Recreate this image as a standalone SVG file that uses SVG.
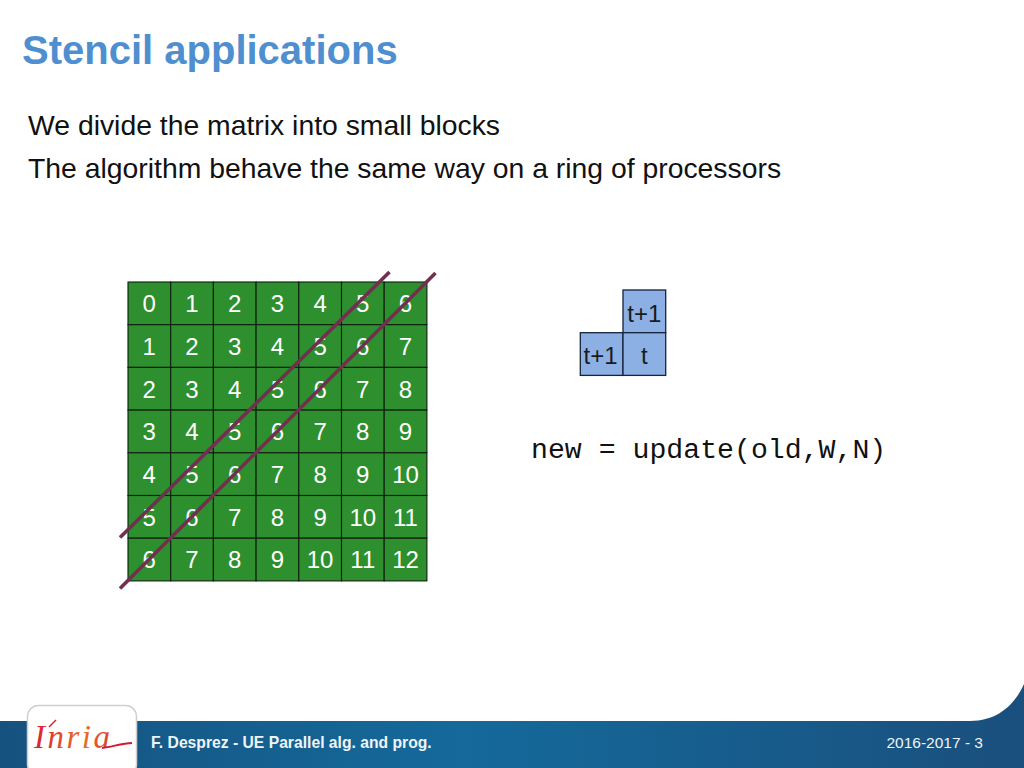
<svg xmlns="http://www.w3.org/2000/svg" width="1024" height="768" viewBox="0 0 1024 768">
<style>
.s{font-family:"Liberation Sans",Arial,sans-serif}
.c{fill:#2d8f2d;stroke:#0c1f0c;stroke-width:1.1}
.b{fill:#8db0e4;stroke:#14233c;stroke-width:1.3}
.n{font-size:24px;fill:#fff;text-anchor:middle;font-family:"Liberation Sans",Arial,sans-serif}
.k{font-size:24px;fill:#1a1a22;text-anchor:middle;font-family:"Liberation Sans",Arial,sans-serif}
.d{stroke:#71304f;stroke-width:3.6;fill:none}
.p{font-size:28.350px;fill:#111}
</style>
<defs>
<linearGradient id="bar" x1="0" x2="1" y1="0" y2="0"><stop offset="0" stop-color="#16527f"/><stop offset=".45" stop-color="#146a9b"/><stop offset="1" stop-color="#1a4f7d"/></linearGradient>
<linearGradient id="logo" gradientUnits="userSpaceOnUse" x1="33" x2="132" y1="0" y2="0"><stop offset="0" stop-color="#d61f33"/><stop offset=".5" stop-color="#e6702a"/><stop offset="1" stop-color="#d4182f"/></linearGradient>
</defs>
<rect width="1024" height="768" fill="#fff"/>
<g id="footer">
<path d="M0 721H970C1000 721 1016 702 1024 684V768H0Z" fill="url(#bar)"/>
<rect x="27.500" y="705.500" width="109" height="70" rx="11" fill="#fff" stroke="#cfcfcf" stroke-width="1.500"/>
<text x="34" y="748" font-family="Liberation Serif,serif" font-style="italic" font-size="33" fill="url(#logo)" textLength="76">Inria</text>
<path d="M102 748C112 747 122 743 132 743" stroke="#d4182f" stroke-width="2" fill="none"/>
<path d="M49 727L56 720" stroke="#d61f33" stroke-width="1.500" fill="none"/>
<text class="s" x="151" y="748" font-size="15.700" font-weight="bold" fill="#eef4f8">F. Desprez - UE Parallel alg. and prog.</text>
<text class="s" x="983" y="748" font-size="15.500" fill="#eef4f8" text-anchor="end">2016-2017 - 3</text>
</g>
<text id="title" class="s" x="22" y="64" font-size="40" font-weight="bold" fill="#4f8fd0">Stencil applications</text>
<g id="body">
<text class="s p" x="28" y="135">We divide the matrix into small blocks</text>
<text class="s p" x="28" y="178">The algorithm behave the same way on a ring of processors</text>
</g>
<g id="grid">
<rect class="c" x="128" y="282" width="42.700" height="42.700"/><rect class="c" x="170.700" y="282" width="42.700" height="42.700"/><rect class="c" x="213.400" y="282" width="42.700" height="42.700"/><rect class="c" x="256.100" y="282" width="42.700" height="42.700"/><rect class="c" x="298.800" y="282" width="42.700" height="42.700"/><rect class="c" x="341.500" y="282" width="42.700" height="42.700"/><rect class="c" x="384.200" y="282" width="42.700" height="42.700"/>
<rect class="c" x="128" y="324.700" width="42.700" height="42.700"/><rect class="c" x="170.700" y="324.700" width="42.700" height="42.700"/><rect class="c" x="213.400" y="324.700" width="42.700" height="42.700"/><rect class="c" x="256.100" y="324.700" width="42.700" height="42.700"/><rect class="c" x="298.800" y="324.700" width="42.700" height="42.700"/><rect class="c" x="341.500" y="324.700" width="42.700" height="42.700"/><rect class="c" x="384.200" y="324.700" width="42.700" height="42.700"/>
<rect class="c" x="128" y="367.400" width="42.700" height="42.700"/><rect class="c" x="170.700" y="367.400" width="42.700" height="42.700"/><rect class="c" x="213.400" y="367.400" width="42.700" height="42.700"/><rect class="c" x="256.100" y="367.400" width="42.700" height="42.700"/><rect class="c" x="298.800" y="367.400" width="42.700" height="42.700"/><rect class="c" x="341.500" y="367.400" width="42.700" height="42.700"/><rect class="c" x="384.200" y="367.400" width="42.700" height="42.700"/>
<rect class="c" x="128" y="410.100" width="42.700" height="42.700"/><rect class="c" x="170.700" y="410.100" width="42.700" height="42.700"/><rect class="c" x="213.400" y="410.100" width="42.700" height="42.700"/><rect class="c" x="256.100" y="410.100" width="42.700" height="42.700"/><rect class="c" x="298.800" y="410.100" width="42.700" height="42.700"/><rect class="c" x="341.500" y="410.100" width="42.700" height="42.700"/><rect class="c" x="384.200" y="410.100" width="42.700" height="42.700"/>
<rect class="c" x="128" y="452.800" width="42.700" height="42.700"/><rect class="c" x="170.700" y="452.800" width="42.700" height="42.700"/><rect class="c" x="213.400" y="452.800" width="42.700" height="42.700"/><rect class="c" x="256.100" y="452.800" width="42.700" height="42.700"/><rect class="c" x="298.800" y="452.800" width="42.700" height="42.700"/><rect class="c" x="341.500" y="452.800" width="42.700" height="42.700"/><rect class="c" x="384.200" y="452.800" width="42.700" height="42.700"/>
<rect class="c" x="128" y="495.500" width="42.700" height="42.700"/><rect class="c" x="170.700" y="495.500" width="42.700" height="42.700"/><rect class="c" x="213.400" y="495.500" width="42.700" height="42.700"/><rect class="c" x="256.100" y="495.500" width="42.700" height="42.700"/><rect class="c" x="298.800" y="495.500" width="42.700" height="42.700"/><rect class="c" x="341.500" y="495.500" width="42.700" height="42.700"/><rect class="c" x="384.200" y="495.500" width="42.700" height="42.700"/>
<rect class="c" x="128" y="538.200" width="42.700" height="42.700"/><rect class="c" x="170.700" y="538.200" width="42.700" height="42.700"/><rect class="c" x="213.400" y="538.200" width="42.700" height="42.700"/><rect class="c" x="256.100" y="538.200" width="42.700" height="42.700"/><rect class="c" x="298.800" y="538.200" width="42.700" height="42.700"/><rect class="c" x="341.500" y="538.200" width="42.700" height="42.700"/><rect class="c" x="384.200" y="538.200" width="42.700" height="42.700"/>
<g>
<text class="n" x="149.300" y="312">0</text><text class="n" x="192" y="312">1</text><text class="n" x="234.700" y="312">2</text><text class="n" x="277.400" y="312">3</text><text class="n" x="320.100" y="312">4</text><text class="n" x="362.800" y="312">5</text><text class="n" x="405.500" y="312">6</text>
<text class="n" x="149.300" y="355">1</text><text class="n" x="192" y="355">2</text><text class="n" x="234.700" y="355">3</text><text class="n" x="277.400" y="355">4</text><text class="n" x="320.100" y="355">5</text><text class="n" x="362.800" y="355">6</text><text class="n" x="405.500" y="355">7</text>
<text class="n" x="149.300" y="397.500">2</text><text class="n" x="192" y="397.500">3</text><text class="n" x="234.700" y="397.500">4</text><text class="n" x="277.400" y="397.500">5</text><text class="n" x="320.100" y="397.500">6</text><text class="n" x="362.800" y="397.500">7</text><text class="n" x="405.500" y="397.500">8</text>
<text class="n" x="149.300" y="440">3</text><text class="n" x="192" y="440">4</text><text class="n" x="234.700" y="440">5</text><text class="n" x="277.400" y="440">6</text><text class="n" x="320.100" y="440">7</text><text class="n" x="362.800" y="440">8</text><text class="n" x="405.500" y="440">9</text>
<text class="n" x="149.300" y="483">4</text><text class="n" x="192" y="483">5</text><text class="n" x="234.700" y="483">6</text><text class="n" x="277.400" y="483">7</text><text class="n" x="320.100" y="483">8</text><text class="n" x="362.800" y="483">9</text><text class="n" x="405.500" y="483">10</text>
<text class="n" x="149.300" y="525.500">5</text><text class="n" x="192" y="525.500">6</text><text class="n" x="234.700" y="525.500">7</text><text class="n" x="277.400" y="525.500">8</text><text class="n" x="320.100" y="525.500">9</text><text class="n" x="362.800" y="525.500">10</text><text class="n" x="405.500" y="525.500">11</text>
<text class="n" x="149.300" y="568">6</text><text class="n" x="192" y="568">7</text><text class="n" x="234.700" y="568">8</text><text class="n" x="277.400" y="568">9</text><text class="n" x="320.100" y="568">10</text><text class="n" x="362.800" y="568">11</text><text class="n" x="405.500" y="568">12</text>
</g>
</g>
<g id="connectors">
<line class="d" x1="120" y1="537.500" x2="389.500" y2="272"/>
<line class="d" x1="120" y1="588.500" x2="435.500" y2="273"/>
</g>
<g id="stencil-n"><rect class="b" x="623" y="290" width="42.700" height="42.700"/><text class="k" x="644.300" y="322">t+1</text></g>
<g id="stencil-w"><rect class="b" x="580.300" y="332.700" width="42.700" height="42.700"/><text class="k" x="600.600" y="364">t+1</text></g>
<g id="stencil-c"><rect class="b" x="623" y="332.700" width="42.700" height="42.700"/><text class="k" x="644.300" y="364">t</text></g>
<text id="formula" x="531" y="458" font-family="Liberation Mono,monospace" font-size="28.200" fill="#111" font-weight="300">new = update(old,W,N)</text>
</svg>
